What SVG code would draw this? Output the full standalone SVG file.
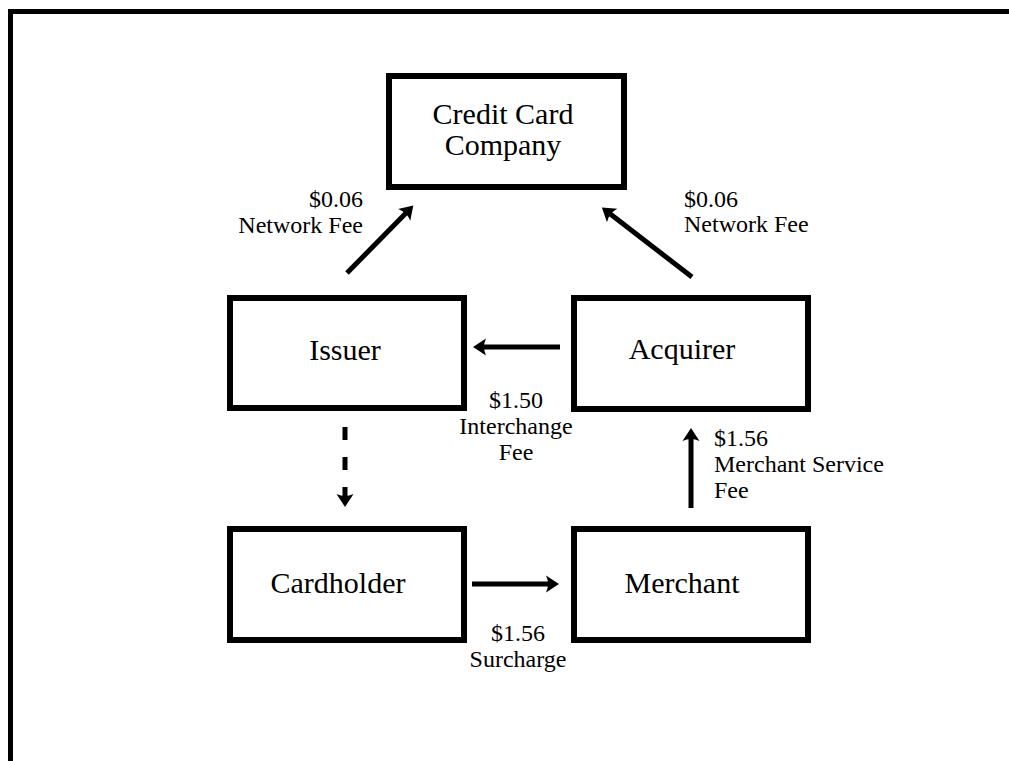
<svg xmlns="http://www.w3.org/2000/svg" width="1009" height="761" viewBox="0 0 1009 761">
  <style>
    .box { fill: #ffffff; stroke: #000000; stroke-width: 6; }
    .node { font-family: "Liberation Serif", "Times New Roman", serif; font-size: 30px; fill: #000000; text-anchor: middle; }
    .lbl { font-family: "Liberation Serif", "Times New Roman", serif; font-size: 24px; fill: #000000; }
    .edge { fill: none; stroke: #000000; stroke-width: 5; }
    .dash { stroke-dasharray: 13 17; }
  </style>
  <defs>
    <marker id="ah" markerUnits="userSpaceOnUse" markerWidth="30" markerHeight="30" viewBox="-10 -15 30 30" refX="0" refY="0" orient="auto" overflow="visible">
      <path d="M9,0 L-4,-8.5 Q0,0 -4,8.5 Z" fill="#000000"/>
    </marker>
  </defs>
  <rect x="0" y="0" width="1009" height="761" fill="#ffffff"/>
  <g id="frame">
    <path d="M10.5,761 L10.5,11.5 L1009,11.5" fill="none" stroke="#000000" stroke-width="5"/>
  </g>

  <g id="connectors">
    <line class="edge" x1="347" y1="273" x2="407" y2="212" marker-end="url(#ah)"/>
    <line class="edge" x1="692" y1="277" x2="609" y2="213" marker-end="url(#ah)"/>
    <line class="edge" x1="560" y1="347" x2="482" y2="347" marker-end="url(#ah)"/>
    <line class="edge dash" x1="345" y1="427" x2="345" y2="498" marker-end="url(#ah)"/>
    <line class="edge" x1="472" y1="584" x2="550" y2="584" marker-end="url(#ah)"/>
    <line class="edge" x1="691" y1="508" x2="691" y2="437" marker-end="url(#ah)"/>
  </g>

  <g id="credit-card-company">
    <rect class="box" x="389" y="76" width="235" height="111"/>
    <text class="node" x="503" y="124">Credit Card</text>
    <text class="node" x="503" y="155">Company</text>
  </g>
  <g id="issuer">
    <rect class="box" x="230" y="298" width="234" height="110"/>
    <text class="node" x="345" y="360">Issuer</text>
  </g>
  <g id="acquirer">
    <rect class="box" x="574" y="298" width="234" height="111"/>
    <text class="node" x="682" y="359">Acquirer</text>
  </g>
  <g id="cardholder">
    <rect class="box" x="230" y="529" width="234" height="111"/>
    <text class="node" x="338" y="593">Cardholder</text>
  </g>
  <g id="merchant">
    <rect class="box" x="574" y="529" width="234" height="111"/>
    <text class="node" x="682" y="593">Merchant</text>
  </g>

  <g id="labels">
    <text class="lbl" text-anchor="end" x="363" y="207">$0.06</text>
    <text class="lbl" text-anchor="end" x="363" y="233">Network Fee</text>
    <text class="lbl" x="684" y="207">$0.06</text>
    <text class="lbl" x="684" y="232">Network Fee</text>
    <text class="lbl" text-anchor="middle" x="516" y="408">$1.50</text>
    <text class="lbl" text-anchor="middle" x="516" y="434">Interchange</text>
    <text class="lbl" text-anchor="middle" x="516" y="460">Fee</text>
    <text class="lbl" x="714" y="446">$1.56</text>
    <text class="lbl" x="714" y="472">Merchant Service</text>
    <text class="lbl" x="714" y="498">Fee</text>
    <text class="lbl" text-anchor="middle" x="518" y="641">$1.56</text>
    <text class="lbl" text-anchor="middle" x="518" y="667">Surcharge</text>
  </g>
</svg>
